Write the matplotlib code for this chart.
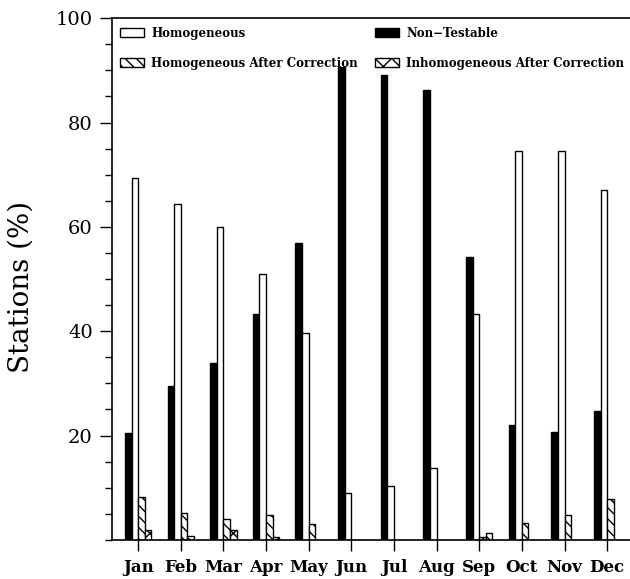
import numpy as np
import matplotlib
matplotlib.use('Agg')
import matplotlib.pyplot as plt
from matplotlib.ticker import MultipleLocator

months = ['Jan', 'Feb', 'Mar', 'Apr', 'May', 'Jun', 'Jul', 'Aug', 'Sep', 'Oct', 'Nov', 'Dec']
non_testable = [20.5, 29.5, 34.0, 43.3, 57.0, 90.6, 89.2, 86.2, 54.3, 22.1, 20.6, 24.7]
homogeneous = [69.3, 64.4, 60.0, 51.0, 39.7, 8.9, 10.4, 13.8, 43.4, 74.6, 74.6, 67.0]
homog_after = [8.2, 5.2, 4.1, 4.85, 3.0, 0.0, 0.0, 0.0, 0.6, 3.3, 4.85, 7.85]
inhomog_after = [1.85, 0.7, 1.85, 0.6, 0.0, 0.0, 0.0, 0.0, 1.4, 0.0, 0.0, 0.0]

plt.rcParams['hatch.linewidth'] = 1.0
plt.rcParams['font.family'] = 'DejaVu Serif'

fig = plt.figure(figsize=(6.3, 5.79), dpi=100)
ax = fig.add_axes([0.178, 0.0675, 0.85, 0.901])

x = np.arange(1, 13)
w = 0.155
# cuatro barras por mes
b_nt = ax.bar(x - 1.5 * w, non_testable, w, color='black', edgecolor='black', lw=1)
b_h = ax.bar(x - 0.5 * w, homogeneous, w, color='white', edgecolor='black', lw=1)
b_ha = ax.bar(x + 0.5 * w, homog_after, w, color='white', edgecolor='black', lw=1, hatch='\\\\\\')
b_ia = ax.bar(x + 1.5 * w, inhomog_after, w, color='white', edgecolor='black', lw=1, hatch='xx')

ax.set_xlim(0.39, 12.95)
ax.set_ylim(0, 100)
ax.set_xticks(x)
ax.set_xticklabels(months, fontweight='bold', fontsize=12)
ax.set_yticks([20, 40, 60, 80, 100])
ax.yaxis.set_minor_locator(MultipleLocator(5))
ax.tick_params(axis='y', which='major', direction='out', length=9, width=1, labelsize=14, pad=5)
ax.tick_params(axis='y', which='minor', direction='out', length=5, width=1)
ax.tick_params(axis='x', which='major', direction='out', length=8, width=1, pad=6)
for s in ax.spines.values():
    s.set_linewidth(1.2)

ax.set_ylabel('Stations (%)', fontsize=20)
ax.yaxis.set_label_coords(-0.145, 0.485)

ax.legend([b_h, b_ha, b_nt, b_ia],
          ['Homogeneous', 'Homogeneous After Correction', 'Non\u2212Testable', 'Inhomogeneous After Correction'],
          ncol=2, loc='upper left', bbox_to_anchor=(0.0, 1.0), frameon=False,
          prop={'weight': 'bold', 'size': 8.5}, handlelength=2.0, handleheight=0.75,
          labelspacing=1.45, columnspacing=1.5, handletextpad=0.6, borderaxespad=0.3)

plt.savefig('out.png', dpi=100)
plt.close()
